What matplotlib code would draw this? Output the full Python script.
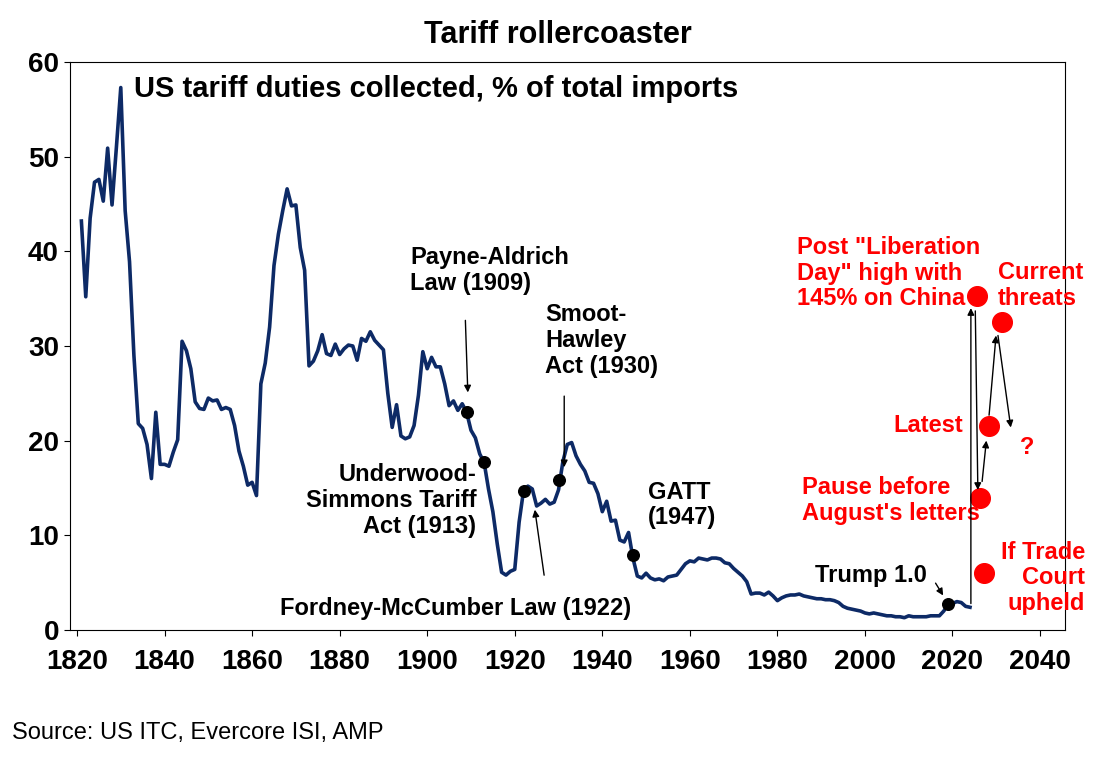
import matplotlib
matplotlib.use("Agg")
import matplotlib.pyplot as plt

plt.rcParams['font.family'] = ['Liberation Sans', 'DejaVu Sans']

# US tariff duties collected, % of total imports
tariff = [43.2, 35.2, 43.5, 47.3, 47.6, 45.3, 50.9, 44.9, 51.0, 57.3,   # 1821-1830
          44.3, 38.9, 29.0, 21.8, 21.3, 19.6, 16.0, 23.0, 17.5, 17.5,   # 1831-1840
          17.3, 18.8, 20.1, 30.5, 29.5, 27.6, 24.1, 23.4, 23.3, 24.5,
          24.2, 24.3, 23.3, 23.5, 23.3, 21.6, 18.9, 17.3, 15.3, 15.6,
          14.2, 26.0, 28.2, 32.0, 38.5, 41.8, 44.3, 46.6, 44.8, 44.9,
          40.4, 38.0, 27.9, 28.4, 29.5, 31.2, 29.2, 29.0, 30.2, 29.1,
          29.7, 30.1, 30.0, 28.5, 30.8, 30.5, 31.5, 30.6, 30.1, 29.6,
          25.0, 21.4, 23.8, 20.5, 20.2, 20.4, 21.6, 24.8, 29.4, 27.6,
          28.8, 27.8, 27.8, 26.0, 23.7, 24.2, 23.2, 23.9, 23.0, 21.1,
          20.3, 18.6, 17.7, 14.9, 12.5, 9.1, 6.1, 5.8, 6.2, 6.4,
          11.4, 14.7, 15.2, 14.9, 13.1, 13.4, 13.8, 13.3, 13.5, 14.8,
          17.8, 19.6, 19.8, 18.4, 17.5, 16.8, 15.6, 15.5, 14.4, 12.5,
          13.6, 11.5, 11.6, 9.5, 9.3, 10.3, 7.6, 5.7, 5.5, 6.0,
          5.5, 5.3, 5.4, 5.2, 5.6, 5.7, 5.8, 6.4, 7.0, 7.3,
          7.2, 7.6, 7.5, 7.4, 7.6, 7.6, 7.5, 7.1, 7.0, 6.5,
          6.1, 5.7, 5.1, 3.8, 3.9, 3.9, 3.7, 4.0, 3.6, 3.1,
          3.4, 3.6, 3.7, 3.7, 3.8, 3.6, 3.5, 3.4, 3.3, 3.3,
          3.2, 3.2, 3.1, 2.9, 2.5, 2.3, 2.2, 2.1, 2.0, 1.8,
          1.7, 1.8, 1.7, 1.6, 1.5, 1.5, 1.4, 1.4, 1.3, 1.5,
          1.4, 1.4, 1.4, 1.4, 1.5, 1.5, 1.5, 2.0, 2.7, 2.8,
          3.0, 2.9, 2.5, 2.4]                                           # 2021-2024
years = list(range(1821, 1821 + len(tariff)))

milestones = {1909: 23.0, 1913: 17.7, 1922: 14.7, 1930: 15.8, 1947: 7.9, 2019: 2.7}
scenarios = {'liberation': (2025.6, 35.3), 'pause': (2026.3, 13.9), 'latest': (2028.4, 21.5),
             'threats': (2031.3, 32.5), 'court': (2027.2, 6.0)}

navy = '#0d2a66'
red = '#ff0000'

fig = plt.figure(figsize=(11.15, 7.6), dpi=100)
ax = fig.add_axes([70/1115, 130/760, 995/1115, 568/760])
ax.plot(years, tariff, color=navy, lw=2.6, zorder=2)
ax.scatter(list(milestones.keys()), list(milestones.values()), s=70, color='black', zorder=3)
sx = [v[0] for v in scenarios.values()]
sy = [v[1] for v in scenarios.values()]
ax.scatter(sx, sy, s=200, color=red, zorder=3)

ax.set_xlim(1818.4, 2045.7)
ax.set_ylim(0, 60)
ax.set_xticks(range(1820, 2041, 20))
ax.set_yticks(range(0, 61, 10))
ax.tick_params(labelsize=20, direction='out', length=4)
ax.tick_params(axis='x', pad=10)
ax.tick_params(axis='y', pad=4)
for t in ax.get_xticklabels() + ax.get_yticklabels():
    t.set_fontweight('bold')

fig.text(0.5, 1 - 35/760, 'Tariff rollercoaster', ha='center', va='center', fontsize=22, fontweight='bold')
ax.text(1833.0, 57.1, 'US tariff duties collected, % of total imports', fontsize=21, fontweight='bold', va='center')
fig.text(12/1115, 1 - 733/760, 'Source: US ITC, Evercore ISI, AMP', fontsize=17, va='center')

arr = dict(arrowstyle='-|>', color='black', lw=1, mutation_scale=10)
tkw = dict(fontsize=17, fontweight='bold', linespacing=1.15)
ax.text(1896.1, 38.0, 'Payne-Aldrich\nLaw (1909)', va='center', **tkw)
ax.annotate('', xy=(1909.3, 24.8), xytext=(1908.7, 33.0), arrowprops=arr)
ax.text(1926.9, 30.6, 'Smoot-\nHawley\nAct (1930)', va='center', **tkw)
ax.annotate('', xy=(1931.3, 16.9), xytext=(1931.3, 25.0), arrowprops=arr)
ax.text(1911.2, 13.7, 'Underwood-\nSimmons Tariff\nAct (1913)', ha='right', va='center', **tkw)
ax.text(1906.4, 2.3, 'Fordney-McCumber Law (1922)', ha='center', va='center', **tkw)
ax.annotate('', xy=(1924.5, 13.0), xytext=(1926.8, 5.5), arrowprops=arr)
ax.text(1950.5, 13.2, 'GATT\n(1947)', va='center', **tkw)
ax.text(1988.6, 5.8, 'Trump 1.0', va='center', **tkw)
ax.annotate('', xy=(2018.2, 3.4), xytext=(2015.8, 5.2), arrowprops=arr)

rtk = dict(fontsize=17, fontweight='bold', color=red, linespacing=1.15)
ax.text(1984.5, 37.7, 'Post "Liberation\nDay" high with\n145% on China', ha='left', va='center', **rtk)
ax.text(2030.4, 36.4, 'Current\nthreats', ha='left', va='center', **rtk)
ax.text(2022.4, 21.6, 'Latest', ha='right', va='center', **rtk)
ax.text(2037.0, 19.3, '?', ha='center', va='center', **rtk)
ax.text(1985.6, 13.7, 'Pause before\nAugust\'s letters', ha='left', va='center', **rtk)
ax.text(2050.3, 5.5, 'If Trade\nCourt\nupheld', ha='right', va='center', clip_on=False, **rtk)

ax.annotate('', xy=(2024.2, 34.3), xytext=(2024.2, 2.5), arrowprops=arr)
ax.annotate('', xy=(2025.8, 14.5), xytext=(2025.2, 34.0), arrowprops=arr)
ax.annotate('', xy=(2027.8, 20.3), xytext=(2026.7, 15.4), arrowprops=arr)
ax.annotate('', xy=(2030.0, 31.4), xytext=(2028.3, 22.4), arrowprops=arr)
ax.annotate('', xy=(2033.4, 21.1), xytext=(2030.3, 31.4), arrowprops=arr)

fig.savefig('out.png', dpi=100)
